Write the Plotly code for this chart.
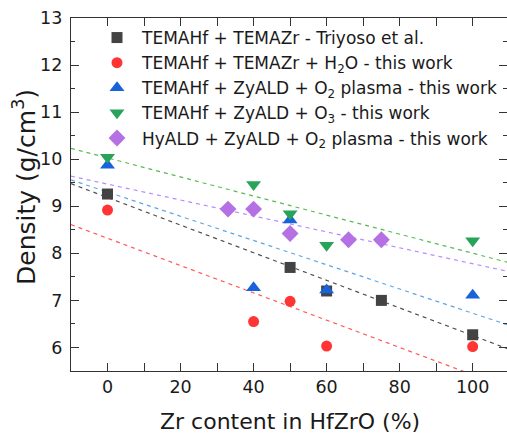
import plotly.graph_objects as go

# ---- data ----
names = [
    "TEMAHf + TEMAZr - Triyoso et al.",
    "TEMAHf + TEMAZr + H<sub>2</sub>O - this work",
    "TEMAHf + ZyALD + O<sub>2</sub> plasma - this work",
    "TEMAHf + ZyALD + O<sub>3</sub> - this work",
    "HyALD + ZyALD + O<sub>2</sub> plasma - this work",
]
x_triyoso = [0, 50, 60, 75, 100]
y_triyoso = [9.26, 7.70, 7.20, 7.00, 6.27]
x_h2o = [0, 40, 50, 60, 100]
y_h2o = [8.92, 6.55, 6.98, 6.03, 6.02]
x_o2p = [0, 40, 50, 60, 100]
y_o2p = [9.87, 7.27, 8.71, 7.22, 7.11]
x_o3 = [0, 40, 50, 60, 100]
y_o3 = [10.04, 9.46, 8.84, 8.17, 8.27]
x_hyald = [33, 40, 50, 66, 75]
y_hyald = [8.94, 8.94, 8.42, 8.29, 8.29]

# linear-fit guide lines (end values read at x = -10 and x = 110)
fit_x = [-10, 110]
fit_triyoso = [9.48, 5.96]
fit_h2o = [8.61, 5.13]
fit_o2p = [9.56, 6.47]
fit_o3 = [10.23, 7.80]
fit_hyald = [9.64, 7.61]

x_ticks = [0, 20, 40, 60, 80, 100]
y_ticks = [6, 7, 8, 9, 10, 11, 12, 13]

series = [
    (x_triyoso, y_triyoso, fit_triyoso, "square", 11, "#434343", "#505050"),
    (x_h2o, y_h2o, fit_h2o, "circle", 11, "#ff3535", "#ff5a5a"),
    (x_o2p, y_o2p, fit_o2p, "triangle-up", 13, "#1763dc", "#5aa6e6"),
    (x_o3, y_o3, fit_o3, "triangle-down", 13, "#27a35a", "#55bb55"),
    (x_hyald, y_hyald, fit_hyald, "diamond", 13, "#b571e3", "#b98aff"),
]

FONT = "DejaVu Sans, Verdana, sans-serif"
fig = go.Figure()

for (xs, ys, fy, sym, sz, col, lcol) in series:
    fig.add_trace(go.Scatter(
        x=fit_x, y=fy, mode="lines", showlegend=False, hoverinfo="skip",
        line=dict(color=lcol, width=1.2, dash="4px,4px"),
    ))

for name, (xs, ys, fy, sym, sz, col, lcol) in zip(names, series):
    fig.add_trace(go.Scatter(
        x=xs, y=ys, mode="markers", name=name,
        marker=dict(symbol=sym, size=sz, color=col, line=dict(width=0)),
    ))

# invisible trace to carry the right-hand mirrored ticks
fig.add_trace(go.Scatter(x=[None], y=[None], yaxis="y2", showlegend=False))

W, H = 507, 434
L, R, T, B = 71, 0, 18, 63

axis_common = dict(
    showline=True, linecolor="#333333", linewidth=1.4,
    ticks="inside", ticklen=8, tickwidth=1.4, tickcolor="#333333",
    showgrid=False, zeroline=False,
    tickfont=dict(family=FONT, size=17.5, color="#1a1a1a"),
)

fig.update_layout(
    width=W, height=H,
    margin=dict(l=L, r=R, t=T, b=B, pad=0),
    paper_bgcolor="white", plot_bgcolor="white",
    font=dict(family=FONT, color="#1a1a1a"),
    xaxis=dict(
        range=[-10, 109.4], tickvals=x_ticks, mirror="allticks",
        minor=dict(dtick=10, tick0=0, ticks="inside", ticklen=4, tickwidth=1.2,
                   tickcolor="#333333"),
        **axis_common,
    ),
    yaxis=dict(
        range=[5.5, 13], tickvals=y_ticks, mirror=False,
        minor=dict(dtick=0.5, tick0=0, ticks="inside", ticklen=4, tickwidth=1.2,
                   tickcolor="#333333"),
        ticklabelstandoff=4,
        **axis_common,
    ),
    yaxis2=dict(
        range=[5.5, 13], tickvals=y_ticks, overlaying="y", side="right",
        anchor="x", showline=False, showticklabels=False, showgrid=False,
        zeroline=False, ticks="inside", ticklen=8, tickwidth=1.4,
        tickcolor="#333333",
        minor=dict(dtick=0.5, tick0=0, ticks="inside", ticklen=4, tickwidth=1.2,
                   tickcolor="#333333"),
    ),
    legend=dict(
        x=(92 - L) / (W - L - R), y=(H - B - 20) / (H - B - T),
        xanchor="left", yanchor="top",
        bgcolor="rgba(255,255,255,0)", borderwidth=0,
        font=dict(family=FONT, size=17, color="#1a1a1a"),
        itemwidth=40, tracegroupgap=0,
    ),
    annotations=[
        dict(text="Zr content in HfZrO (%)", xref="paper", yref="paper",
             x=0.5 * (158 + 421 - 2 * L) / (W - L - R), y=-(421 - (H - B)) / (H - B - T),
             xanchor="center", yanchor="middle", showarrow=False,
             font=dict(family=FONT, size=22, color="#1a1a1a")),
        dict(text="Density (g/cm<sup>3</sup>)", xref="paper", yref="paper",
             x=-(L - 24) / (W - L - R), y=(H - B - 187) / (H - B - T),
             xanchor="center", yanchor="middle", textangle=-90, showarrow=False,
             font=dict(family=FONT, size=25, color="#1a1a1a")),
    ],
)

fig.write_html("out.html")
